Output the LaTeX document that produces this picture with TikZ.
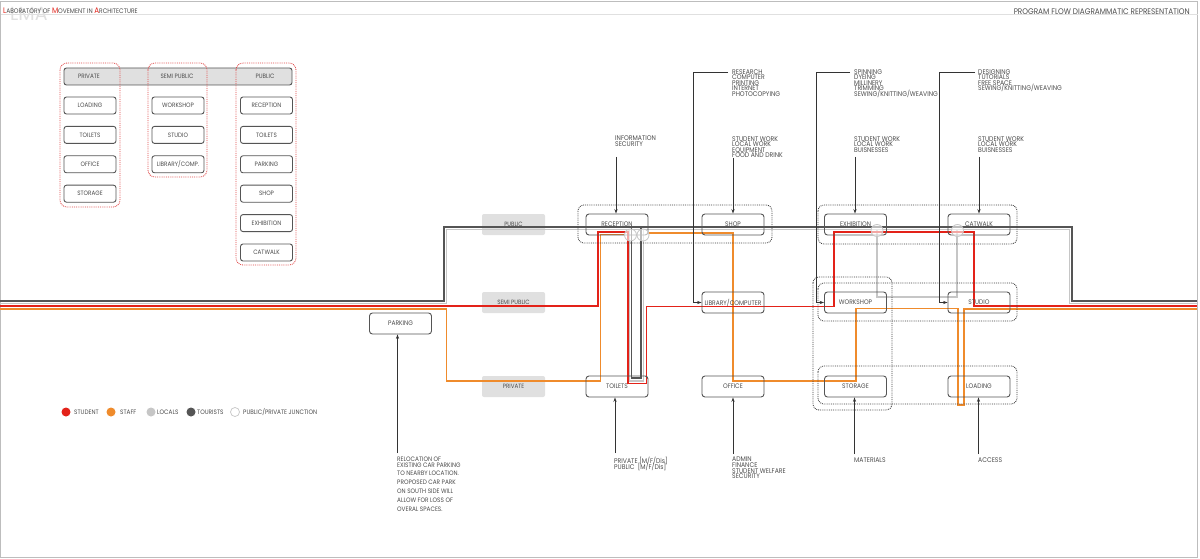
\documentclass[tikz,border=0pt]{standalone}
\usepackage{fontspec}
\setmainfont{Poppins}[FakeStretch=0.9]
\newfontfamily\lmafont{Poppins}
\usetikzlibrary{arrows.meta}
\setlength{\lineskiplimit}{-100pt}
\definecolor{tourC}{HTML}{555555}
\definecolor{locC}{HTML}{C6C6C6}
\definecolor{stuC}{HTML}{E32219}
\definecolor{stfC}{HTML}{EF8B2C}
\definecolor{txtC}{HTML}{4D4D4D}
\definecolor{zoneC}{HTML}{E0E0E0}
\definecolor{frameC}{HTML}{BDBDBD}
\definecolor{rdotC}{HTML}{E04848}
\newcommand\fnode{\fontsize{6.6}{6}\selectfont}
\newcommand\ftab{\fontsize{6.3}{6}\selectfont}
\newcommand\fzone{\fontsize{6.2}{6}\selectfont}
\newcommand\fann{\fontsize{6.8}{5.6}\selectfont}
\newcommand\fleg{\fontsize{6.4}{6}\selectfont}
\newcommand\hbig{\fontsize{8}{8}\selectfont}
\newcommand\hsml{\fontsize{6.6}{8}\selectfont}
\begin{document}
\begin{tikzpicture}[x=1pt,y=-1pt,
  box/.style={draw=tourC, line width=0.9pt, rounded corners=3pt, minimum width=62pt, minimum height=21pt, inner sep=0pt, font=\fnode, text=txtC},
  tbox/.style={draw=tourC, line width=0.9pt, rounded corners=2.5pt, minimum width=52pt, minimum height=17pt, inner sep=0pt, font=\ftab, text=txtC},
  zonebox/.style={fill=zoneC, rounded corners=2pt, minimum width=63pt, minimum height=21pt, inner sep=0pt, font=\fzone, text=txtC},
  grp/.style={draw=black!75, densely dotted, line width=0.85pt, rounded corners=6pt},
  rgrp/.style={draw=rdotC, densely dotted, line width=0.85pt, rounded corners=7pt},
  ann/.style={anchor=north west, inner sep=0pt, align=left, font=\fann, text=txtC},
  arr/.style={draw=black!80, line width=0.8pt, -{Stealth[length=4.5pt,width=3.2pt]}},
  tourL/.style={draw=tourC, line width=1.5pt},
  locL/.style={draw=locC, line width=1.5pt},
  stuL/.style={draw=stuC, line width=1.5pt},
  stfL/.style={draw=stfC, line width=1.8pt},
  junc/.style={circle, draw=locC, line width=0.8pt, fill=white, fill opacity=0.6, minimum size=12pt, inner sep=0pt},
  leg/.style={circle, minimum size=9pt, inner sep=0pt},
  legt/.style={anchor=west, inner sep=0pt, font=\fleg, text=txtC}
]
\useasboundingbox (0,0) rectangle (1200,559);
\fill[white] (0,0) rectangle (1200,559);
% frame and header
\node[anchor=base west, inner sep=0pt, text=black!12, font=\lmafont\fontsize{19}{19}\selectfont] (lma) at (10,21) {LMA};
\draw[frameC, line width=0.8pt] (0.6,1) rectangle (1197.5,557.5);
\draw[black!12, line width=0.6pt] (0.6,14.8) -- (1197.5,14.8);
\node[anchor=base west, inner sep=0pt, text=txtC] (hdr) at (3,14) {\hbig\textcolor{stuC}{L}\hsml ABORATORY OF \hbig\textcolor{stuC}{M}\hsml OVEMENT IN \hbig\textcolor{stuC}{A}\hsml RCHITECTURE};
\node[anchor=base east, inner sep=0pt, font=\fontsize{8.1}{8}\selectfont, text=txtC] (title) at (1190,14.5) {PROGRAM FLOW DIAGRAMMATIC REPRESENTATION};

% left table
\node[draw=tourC, fill=zoneC, line width=0.9pt, rounded corners=2.5pt, minimum width=228pt, minimum height=17pt, inner sep=0pt] (hbar) at (178,76.5) {};
\node[font=\ftab, text=txtC, inner sep=0pt] (hPriv) at (89,76.5) {PRIVATE};
\node[font=\ftab, text=txtC, inner sep=0pt] (hSemi) at (177,76.5) {SEMI PUBLIC};
\node[font=\ftab, text=txtC, inner sep=0pt] (hPub) at (265,76.5) {PUBLIC};
\node[tbox] (tLoad) at (90,105.5) {LOADING};
\node[tbox] (tToil) at (90,134.9) {TOILETS};
\node[tbox] (tOff) at (90,164.3) {OFFICE};
\node[tbox] (tStor) at (90,193.7) {STORAGE};
\node[tbox] (tWork) at (178,105.5) {WORKSHOP};
\node[tbox] (tStud) at (178,134.9) {STUDIO};
\node[tbox] (tLib) at (178,164.3) {LIBRARY/COMP.};
\node[tbox] (tRec) at (266.5,105.5) {RECEPTION};
\node[tbox] (tToil2) at (266.5,134.9) {TOILETS};
\node[tbox] (tPark) at (266.5,164.3) {PARKING};
\node[tbox] (tShop) at (266.5,193.7) {SHOP};
\node[tbox] (tExh) at (266.5,223.1) {EXHIBITION};
\node[tbox] (tCat) at (266.5,252.5) {CATWALK};
\draw[rgrp] (60,63) rectangle (120,207);
\draw[rgrp] (148,63) rectangle (207,177);
\draw[rgrp] (236,63) rectangle (296,265);

% zone labels
\node[zonebox] (zPub) at (513.5,224.5) {PUBLIC};
\node[zonebox] (zSemi) at (513.5,302.5) {SEMI PUBLIC};
\node[zonebox] (zPriv) at (513.5,386.5) {PRIVATE};

% flow lines
\draw[locL] (0,303.5) -- (446.5,303.5) -- (446.5,229.5) -- (1069.5,229.5) -- (1069.5,303.5) -- (1197,303.5);
\draw[locL] (629,229.5) -- (629,381) -- (643.5,381) -- (643.5,229.5);
\draw[locL] (877,229.5) -- (877,297) -- (957,297) -- (957,229.5);
\draw[tourL] (0,301) -- (444,301) -- (444,227) -- (1072,227) -- (1072,301) -- (1197,301);
\draw[tourL] (631.7,227) -- (631.7,378) -- (641,378) -- (641,227);
\draw[stfL] (0,309) -- (446.5,309) -- (446.5,381) -- (600.5,381) -- (600.5,234.5) -- (625,234.5);
\draw[stfL] (648,233) -- (733,233) -- (733,381) -- (856,381) -- (856,308.5) -- (958,308.5) -- (958,405) -- (964,405) -- (964,309) -- (1197,309);
\draw[stuL] (0,306) -- (598,306) -- (598,232) -- (628,232) -- (628,383.5) -- (646.5,383.5) -- (646.5,306.5) -- (834,306.5) -- (834,232) -- (974,232) -- (974,306) -- (1197,306);

% main nodes
\node[box] (parking) at (400.5,323.5) {PARKING};
\node[box] (reception) at (617,224.5) {RECEPTION};
\node[box] (shop) at (733,224.5) {SHOP};
\node[box] (exhibition) at (855.5,224.5) {EXHIBITION};
\node[box] (catwalk) at (979,224.5) {CATWALK};
\node[box] (library) at (733,302.5) {LIBRARY/COMPUTER};
\node[box] (workshop) at (855.5,302.5) {WORKSHOP};
\node[box] (studio) at (979,302.5) {STUDIO};
\node[box] (toilets) at (617,386.5) {TOILETS};
\node[box] (office) at (733,386.5) {OFFICE};
\node[box] (storage) at (855.5,386.5) {STORAGE};
\node[box] (loading) at (979,386.5) {LOADING};

% groups
\draw[grp] (578,205) rectangle (772,243);
\draw[grp] (818,205) rectangle (1017,244);
\draw[grp] (818,283) rectangle (1017,321);
\draw[grp] (818,366) rectangle (1017,404);
\draw[grp] (813,277) rectangle (892,410);

% junctions
\node[junc] (j1) at (630.5,235) {};
\node[junc] (j2) at (643,235) {};
\node[junc] (j3) at (877,230.5) {};
\node[junc] (j4) at (957.5,230.5) {};

% annotations top
\node[ann] (nInfo) at (615,136) {INFORMATION\\SECURITY};
\coordinate (aInfo) at (616,157);
\draw[arr] (aInfo) -- (aInfo |- reception.north);
\node[ann] (nRes) at (732,69) {RESEARCH\\COMPUTER\\PRINTING\\INTERNET\\PHOTOCOPYING};
\coordinate (aRes) at (728,72);
\draw[arr] (aRes) -- ++(-35,0) |- (library.west);
\node[ann] (nShop) at (732,136) {STUDENT WORK\\LOCAL WORK\\EQUIPMENT\\FOOD AND DRINK};
\coordinate (aShop) at (733,158);
\draw[arr] (aShop) -- (aShop |- shop.north);
\node[ann] (nSpin) at (854,69) {SPINNING\\DYEING\\MILLINERY\\TRIMMING\\SEWING/KNITTING/WEAVING};
\coordinate (aSpin) at (850,72);
\draw[arr] (aSpin) -- ++(-34,0) |- (workshop.west);
\node[ann] (nExh) at (854,136) {STUDENT WORK\\LOCAL WORK\\BUISNESSES};
\coordinate (aExh) at (855,157);
\draw[arr] (aExh) -- (aExh |- exhibition.north);
\node[ann] (nDes) at (978,69) {DESIGNING\\TUTORIALS\\FREE SPACE\\SEWING/KNITTING/WEAVING};
\coordinate (aDes) at (975,72);
\draw[arr] (aDes) -- ++(-36,0) |- (studio.west);
\node[ann] (nCat) at (978,136) {STUDENT WORK\\LOCAL WORK\\BUISNESSES};
\coordinate (aCat) at (979,157);
\draw[arr] (aCat) -- (aCat |- catwalk.north);

% annotations bottom
\node[ann, font=\fontsize{6.4}{5.4}\selectfont] (nPark) at (397,457) {RELOCATION OF\\EXISTING CAR PARKING\\[3.4pt]TO NEARBY LOCATION.\\[3.4pt]PROPOSED CAR PARK\\[3.4pt]ON SOUTH SIDE WILL\\[3.4pt]ALLOW FOR LOSS OF\\[3.4pt]OVERAL SPACES.};
\coordinate (aPark) at (397.5,453);
\draw[arr] (aPark) -- (aPark |- parking.south);
\node[ann] (nToil) at (614,457) {PRIVATE [M/F/Dis]\\PUBLIC\ \ [M/F/Dis]};
\coordinate (aToil) at (615,453);
\draw[arr] (aToil) -- (aToil |- toilets.south);
\node[ann] (nOff) at (732,457) {ADMIN\\FINANCE\\STUDENT WELFARE\\SECURITY};
\coordinate (aOff) at (733,454);
\draw[arr] (aOff) -- (aOff |- office.south);
\node[ann] (nMat) at (854,457) {MATERIALS};
\coordinate (aMat) at (854.5,454);
\draw[arr] (aMat) -- (aMat |- storage.south);
\node[ann] (nAcc) at (978,457) {ACCESS};
\coordinate (aAcc) at (978.5,454);
\draw[arr] (aAcc) -- (aAcc |- loading.south);

% legend
\node[leg, fill=stuC] (lStu) at (66,412) {};
\node[legt] (lStuT) at (74,412) {STUDENT};
\node[leg, fill=stfC] (lStf) at (111,412) {};
\node[legt] (lStfT) at (120,412) {STAFF};
\node[leg, fill=locC] (lLoc) at (151,412) {};
\node[legt] (lLocT) at (157,412) {LOCALS};
\node[leg, fill=tourC] (lTour) at (191,412) {};
\node[legt] (lTourT) at (197,412) {TOURISTS};
\node[leg, draw=locC, fill=white, line width=0.7pt] (lJun) at (235,412) {};
\node[legt] (lJunT) at (243,412) {PUBLIC/PRIVATE JUNCTION};
\end{tikzpicture}
\end{document}
